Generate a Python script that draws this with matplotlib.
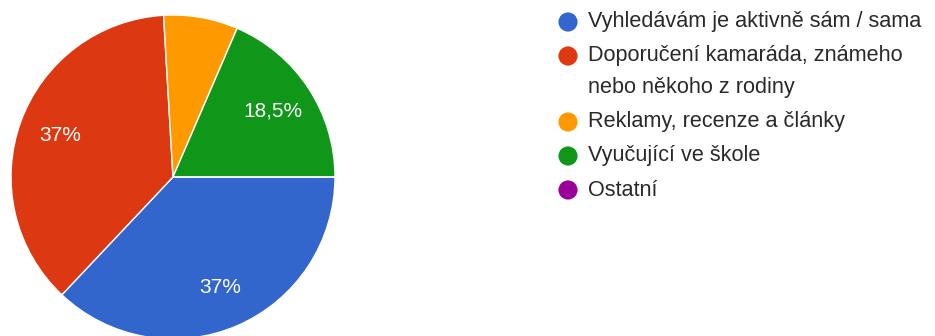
import matplotlib.pyplot as plt

# responses per answer (27 in total)
labels = ['Vyhledávám je aktivně sám / sama',
          'Doporučení kamaráda, známeho\nnebo někoho z rodiny',
          'Reklamy, recenze a články',
          'Vyučující ve škole',
          'Ostatní']
counts = [10, 10, 2, 5, 0]
colors = ['#3366cc', '#dc3912', '#ff9900', '#109618', '#990099']

plt.rcParams['font.family'] = ['Liberation Sans', 'DejaVu Sans']

W, H = 935, 336
fig = plt.figure(figsize=(W / 100, H / 100), dpi=100)


def pct(p):
    # google hides labels on small slices, uses decimal comma
    if p < 10:
        return ''
    s = f'{p:.1f}'.rstrip('0').rstrip('.')
    return s.replace('.', ',') + '%'


# pie: centre ~(173, 177) px, radius 162 px
cx, cy, r = 173, 177, 162
ax = fig.add_axes([(cx - r) / W, (H - cy - r) / H, 2 * r / W, 2 * r / H])
wedges, texts, autotexts = ax.pie(
    counts, colors=colors, startangle=0, counterclock=False,
    autopct=pct, pctdistance=0.74, radius=1,
    wedgeprops=dict(edgecolor='white', linewidth=1),
    textprops=dict(color='white', fontsize=15))
ax.set_xlim(-1, 1)
ax.set_ylim(-1, 1)
ax.set_aspect('equal')

# legend drawn by hand so the marker sits on the first line of wrapped text
lg = fig.add_axes([0, 0, 1, 1], zorder=-1)
lg.set_xlim(0, W)
lg.set_ylim(H, 0)
lg.axis('off')

y = 22
for lab, col in zip(labels, colors):
    lg.scatter([568], [y], s=190, color=col, edgecolors='none')
    lines = lab.split('\n')
    for i, line in enumerate(lines):
        lg.text(588, y + i * 32, line, fontsize=15.6, color='#2a2a2a',
                va='center', ha='left')
    y += 34 + 32 * (len(lines) - 1)

fig.savefig('out.png', dpi=100)
